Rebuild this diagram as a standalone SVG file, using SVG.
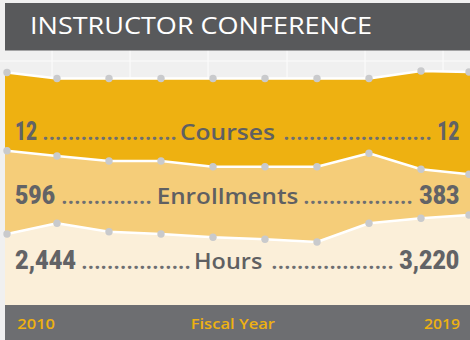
<svg xmlns="http://www.w3.org/2000/svg" width="470" height="340" viewBox="0 0 470 340">
  <defs>
    <style>
      .grid { stroke: #fbfbfb; stroke-width: 1.2; }
      .sep { fill: none; stroke: #ffffff; stroke-width: 2.5; stroke-linejoin: round; }
      .pt { fill: #c9cacc; }
      .num { font-family: Roboto, "Liberation Sans", sans-serif; font-weight: 900; font-size: 26px; fill: #626366; }
      .lbl { font-family: "Open Sans", "Liberation Sans", sans-serif; font-weight: 600; font-size: 22px; fill: #5f6062; }
      .lead { font-family: "Open Sans", "Liberation Sans", sans-serif; font-weight: 700; font-size: 20px; fill: #6d6e71; }
      .axis { font-family: "Open Sans", "Liberation Sans", sans-serif; font-weight: 600; font-size: 15px; fill: #eeb111; }
    </style>
  </defs>

  <!-- background -->
  <rect x="0" y="0" width="470" height="340" fill="#f0f0f0"/>
  <g id="grid">
    <line class="grid" x1="52" y1="50" x2="52" y2="305"/>
    <line class="grid" x1="130" y1="50" x2="130" y2="305"/>
    <line class="grid" x1="208" y1="50" x2="208" y2="305"/>
    <line class="grid" x1="287" y1="50" x2="287" y2="305"/>
    <line class="grid" x1="365" y1="50" x2="365" y2="305"/>
    <line class="grid" x1="443" y1="50" x2="443" y2="305"/>
    <line class="grid" x1="0" y1="61" x2="470" y2="61"/>
  </g>

  <!-- title bar -->
  <g id="title">
    <rect x="5" y="3" width="465" height="47.5" fill="#58595b"/>
    <text x="30" y="34" font-family="'Open Sans', 'Liberation Sans', sans-serif" font-weight="500" font-size="24" fill="#ffffff" textLength="342" lengthAdjust="spacingAndGlyphs">INSTRUCTOR CONFERENCE</text>
  </g>

  <!-- stacked areas -->
  <g id="areas">
    <polygon id="courses-area" fill="#eeb111" points="5,72.5 7,72.5 57,78.5 109,78.5 161,78.5 213,78.5 265,78.5 317,78.5 369,78.5 421,71 469,72 470,72 470,305 5,305"/>
    <polygon id="enrollments-area" fill="#f5cd79" points="5,150.7 7,150.7 57,156 109,161 161,161 213,166.7 265,166.7 317,166.7 369,153.3 421,169.3 469,174.3 470,174.5 470,305 5,305"/>
    <polygon id="hours-area" fill="#fbefd9" points="5,234 7,234 57,223.3 109,231.7 161,234 213,237.3 265,239.3 317,242 369,223.3 421,218.3 469,215 470,215 470,305 5,305"/>
  </g>

  <g id="lines">
    <polyline class="sep" points="5,72.5 7,72.5 57,78.5 109,78.5 161,78.5 213,78.5 265,78.5 317,78.5 369,78.5 421,71 469,72 470,72"/>
    <polyline class="sep" points="5,150.7 7,150.7 57,156 109,161 161,161 213,166.7 265,166.7 317,166.7 369,153.3 421,169.3 469,174.3 470,174.5"/>
    <polyline class="sep" points="5,234 7,234 57,223.3 109,231.7 161,234 213,237.3 265,239.3 317,242 369,223.3 421,218.3 469,215 470,215"/>
  </g>

  <g id="points">
    <circle class="pt" cx="7" cy="72.5" r="3.7"/>
    <circle class="pt" cx="57" cy="78.5" r="3.7"/>
    <circle class="pt" cx="109" cy="78.5" r="3.7"/>
    <circle class="pt" cx="161" cy="78.5" r="3.7"/>
    <circle class="pt" cx="213" cy="78.5" r="3.7"/>
    <circle class="pt" cx="265" cy="78.5" r="3.7"/>
    <circle class="pt" cx="317" cy="78.5" r="3.7"/>
    <circle class="pt" cx="369" cy="78.5" r="3.7"/>
    <circle class="pt" cx="421" cy="71" r="3.7"/>
    <circle class="pt" cx="469" cy="72" r="3.7"/>

    <circle class="pt" cx="7" cy="150.7" r="3.7"/>
    <circle class="pt" cx="57" cy="156" r="3.7"/>
    <circle class="pt" cx="109" cy="161" r="3.7"/>
    <circle class="pt" cx="161" cy="161" r="3.7"/>
    <circle class="pt" cx="213" cy="166.7" r="3.7"/>
    <circle class="pt" cx="265" cy="166.7" r="3.7"/>
    <circle class="pt" cx="317" cy="166.7" r="3.7"/>
    <circle class="pt" cx="369" cy="153.3" r="3.7"/>
    <circle class="pt" cx="421" cy="169.3" r="3.7"/>
    <circle class="pt" cx="469" cy="174.3" r="3.7"/>

    <circle class="pt" cx="7" cy="234" r="3.7"/>
    <circle class="pt" cx="57" cy="223.3" r="3.7"/>
    <circle class="pt" cx="109" cy="231.7" r="3.7"/>
    <circle class="pt" cx="161" cy="234" r="3.7"/>
    <circle class="pt" cx="213" cy="237.3" r="3.7"/>
    <circle class="pt" cx="265" cy="239.3" r="3.7"/>
    <circle class="pt" cx="317" cy="242" r="3.7"/>
    <circle class="pt" cx="369" cy="223.3" r="3.7"/>
    <circle class="pt" cx="421" cy="218.3" r="3.7"/>
    <circle class="pt" cx="469" cy="215" r="3.7"/>
  </g>

  <!-- row labels -->
  <g id="courses-row">
    <text class="num" x="15" y="139.5" textLength="22" lengthAdjust="spacingAndGlyphs">12</text>
    <text class="lead" x="42.5" y="139.5" textLength="134" lengthAdjust="spacing">.....................</text>
    <text class="lbl" x="180" y="139.5" textLength="95" lengthAdjust="spacingAndGlyphs">Courses</text>
    <text class="lead" x="283.5" y="139.5" textLength="148" lengthAdjust="spacing">.......................</text>
    <text class="num" x="437.3" y="139.5" textLength="22" lengthAdjust="spacingAndGlyphs">12</text>
  </g>

  <g id="enrollments-row">
    <text class="num" x="15" y="203.5" textLength="40" lengthAdjust="spacingAndGlyphs">596</text>
    <text class="lead" x="61.5" y="203.5" textLength="90" lengthAdjust="spacing">..............</text>
    <text class="lbl" x="156.7" y="203.5" textLength="141.6" lengthAdjust="spacingAndGlyphs">Enrollments</text>
    <text class="lead" x="303.5" y="203.5" textLength="109" lengthAdjust="spacing">.................</text>
    <text class="num" x="419.3" y="203.5" textLength="40" lengthAdjust="spacingAndGlyphs">383</text>
  </g>

  <g id="hours-row">
    <text class="num" x="15" y="268.5" textLength="61" lengthAdjust="spacingAndGlyphs">2,444</text>
    <text class="lead" x="81.5" y="268.5" textLength="109" lengthAdjust="spacing">.................</text>
    <text class="lbl" x="194" y="268.5" textLength="68.3" lengthAdjust="spacingAndGlyphs">Hours</text>
    <text class="lead" x="271.5" y="268.5" textLength="122" lengthAdjust="spacing">...................</text>
    <text class="num" x="399.3" y="268.5" textLength="60" lengthAdjust="spacingAndGlyphs">3,220</text>
  </g>

  <!-- axis bar -->
  <g id="axis">
    <rect x="5" y="305" width="465" height="35" fill="#6d6e71"/>
    <text class="axis" x="17.3" y="329.3" textLength="37.7" lengthAdjust="spacingAndGlyphs">2010</text>
    <text class="axis" x="190.7" y="329.3" textLength="84.3" lengthAdjust="spacingAndGlyphs">Fiscal Year</text>
    <text class="axis" x="424" y="329.3" textLength="36" lengthAdjust="spacingAndGlyphs">2019</text>
  </g>
</svg>
